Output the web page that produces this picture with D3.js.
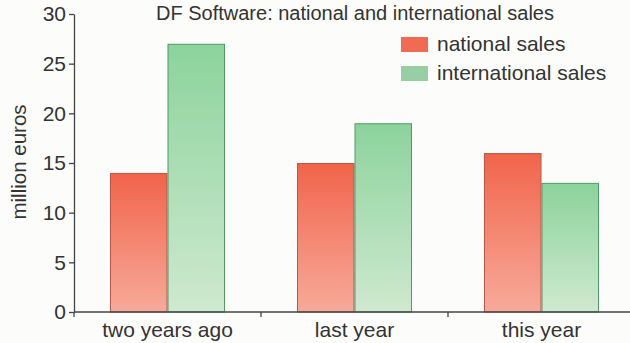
<!DOCTYPE html>
<html>
<head>
<meta charset="utf-8">
<script src="https://cdn.jsdelivr.net/npm/d3@7"></script>
<style>
  html, body { margin: 0; padding: 0; background: #fcfcfa; }
  svg { display: block; font-family: "Liberation Sans", Arial, Helvetica, sans-serif; }
</style>
</head>
<body>
<svg id="chart" width="630" height="343"></svg>
<script>
// Sales data in million euros
const categories = ["two years ago", "last year", "this year"];
const seriesNames = ["national sales", "international sales"];
const nationalSales = [14, 15, 16];
const internationalSales = [27, 19, 13];
const yTicks = [0, 5, 10, 15, 20, 25, 30];

const rows = categories.map((c, i) => ({
  category: c,
  values: [nationalSales[i], internationalSales[i]]
}));

const svg = d3.select("#chart");
const textColor = "#333";
const axisColor = "#444";

const x0 = d3.scaleBand().domain(categories).range([74, 635]).paddingInner(0).paddingOuter(0);
const x1 = d3.scaleBand().domain(seriesNames).range([0, x0.bandwidth()]).paddingInner(0).paddingOuter(0.626);
const y = d3.scaleLinear().domain([0, 30]).range([312, 14]);

// Gradients for bar fills
const defs = svg.append("defs");
const fills = [
  { id: "gNat", top: "#f1644a", bottom: "#f7aa9a", stroke: "#b8574a" },
  { id: "gInt", top: "#8cd39c", bottom: "#cfe9cf", stroke: "#4f9a6a" }
];
fills.forEach(f => {
  const g = defs.append("linearGradient").attr("id", f.id)
    .attr("x1", 0).attr("y1", 0).attr("x2", 0).attr("y2", 1);
  g.append("stop").attr("offset", "0%").attr("stop-color", f.top);
  g.append("stop").attr("offset", "100%").attr("stop-color", f.bottom);
});

// Title
svg.append("text")
  .attr("x", 355).attr("y", 20)
  .attr("text-anchor", "middle")
  .attr("font-size", 20)
  .attr("fill", textColor)
  .text("DF Software: national and international sales");

// Bars
const groups = svg.append("g").selectAll("g").data(rows).join("g")
  .attr("transform", d => `translate(${x0(d.category)},0)`);
groups.selectAll("rect")
  .data(d => d.values.map((v, i) => ({ key: seriesNames[i], value: v, i })))
  .join("rect")
  .attr("x", d => x1(d.key) + 0.5)
  .attr("y", d => y(d.value) + 0.5)
  .attr("width", x1.bandwidth() - 1)
  .attr("height", d => y(0) - y(d.value) - 0.5)
  .attr("fill", d => `url(#${fills[d.i].id})`)
  .attr("stroke", d => fills[d.i].stroke)
  .attr("stroke-width", 1);

// Y axis
const yAxis = svg.append("g")
  .attr("transform", "translate(74,0)")
  .call(d3.axisLeft(y).tickValues(yTicks).tickSize(5).tickPadding(3).tickSizeOuter(0));
yAxis.select(".domain").attr("stroke", axisColor).attr("stroke-width", 1.3);
yAxis.selectAll(".tick line").attr("stroke", axisColor).attr("stroke-width", 1.3);
yAxis.selectAll(".tick text")
  .attr("font-size", 21)
  .attr("font-family", "Liberation Sans, Arial, sans-serif")
  .attr("fill", textColor);

// X axis baseline and category dividers
const xAxisG = svg.append("g").attr("transform", `translate(0,${y(0)})`);
xAxisG.append("line")
  .attr("x1", 74).attr("x2", 630)
  .attr("stroke", axisColor).attr("stroke-width", 1.3);
xAxisG.selectAll("line.div")
  .data(categories)
  .join("line")
  .attr("class", "div")
  .attr("x1", d => x0(d)).attr("x2", d => x0(d))
  .attr("y1", 0).attr("y2", 5)
  .attr("stroke", axisColor).attr("stroke-width", 1.3);
xAxisG.selectAll("text")
  .data(categories)
  .join("text")
  .attr("x", d => x0(d) + x0.bandwidth() / 2)
  .attr("y", 25)
  .attr("text-anchor", "middle")
  .attr("font-size", 21)
  .attr("fill", textColor)
  .text(d => d);

// Y axis title
svg.append("text")
  .attr("transform", "translate(26,162) rotate(-90)")
  .attr("text-anchor", "middle")
  .attr("font-size", 20.5)
  .attr("fill", textColor)
  .text("million euros");

// Legend
const legend = svg.append("g");
seriesNames.forEach((name, i) => {
  legend.append("rect")
    .attr("x", 401).attr("y", 37 + i * 29)
    .attr("width", 27).attr("height", 15)
    .attr("fill", i === 0 ? "#f16a52" : "#97cfa2");
  legend.append("text")
    .attr("x", 437).attr("y", 51 + i * 29)
    .attr("font-size", 21)
    .attr("fill", textColor)
    .text(name);
});
</script>
</body>
</html>
